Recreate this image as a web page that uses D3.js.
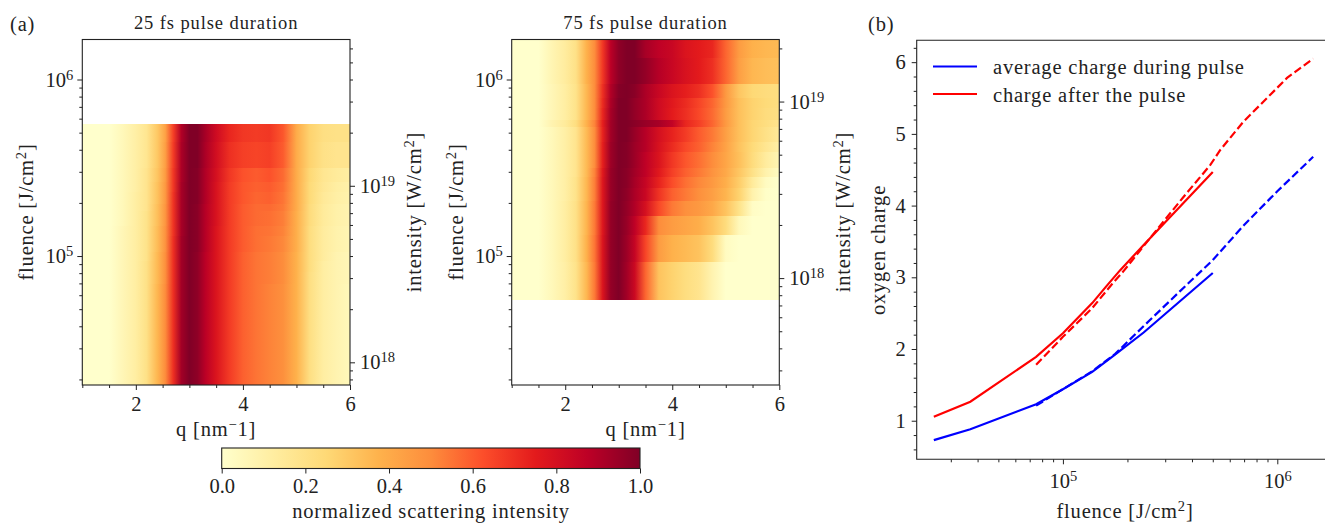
<!DOCTYPE html>
<html>
<head>
<meta charset="utf-8">
<script src="https://cdn.jsdelivr.net/npm/d3@7"></script>
<style>
  html, body { margin: 0; padding: 0; background: #fff; overflow: hidden; }
  svg { display: block; }
  text { font-family: "Liberation Serif", serif; fill: #222; }
  .tick text { font-size: 20.5px; }
  .tick line, .domain { stroke: #222; }
  .lab { font-size: 20.5px; letter-spacing: 0.8px; }
  .ttl { font-size: 18.5px; letter-spacing: 0.9px; }
</style>
</head>
<body>
<div id="chart"></div>
<script>
// q samples shared by both heat maps
var qValues = [1, 1.5, 1.75, 2, 2.2, 2.4, 2.55, 2.7, 2.85, 3, 3.15, 3.3, 3.5, 3.75, 4, 4.25, 4.5, 4.75, 5, 5.25, 5.5, 5.75, 6];

// fluence band edges, top to bottom
var edges25 = [5.6e5, 4.4e5, 3.16e5, 2.62e5, 2.31e5, 1.96e5, 1.8e5, 1.48e5, 1.3e5, 1.05e5, 9.4e4, 8.1e4, 6.9e4, 5.6e4, 4.4e4, 3.1e4, 1.86e4];
var edges75 = [1.685e6, 1.32e6, 9.47e5, 7.85e5, 6.92e5, 5.89e5, 5.41e5, 4.45e5, 3.9e5, 3.16e5, 2.81e5, 2.43e5, 2.06e5, 1.69e5, 1.31e5, 9.3e4, 5.64e4];

// normalized intensity, one row per band
var rows25 = [
  [.00,.00,.05,.11,.17,.30,.43,.66,.90,1.0,1.0,.92,.82,.72,.68,.67,.68,.61,.40,.27,.21,.20,.20],
  [.00,.00,.05,.11,.17,.30,.44,.67,.91,1.0,1.0,.91,.81,.70,.66,.65,.66,.60,.40,.27,.20,.18,.18],
  [.00,.00,.05,.11,.18,.31,.45,.68,.91,1.0,.99,.90,.80,.68,.62,.60,.62,.57,.40,.25,.17,.14,.12],
  [.00,.00,.05,.11,.18,.32,.46,.68,.92,1.0,.99,.90,.79,.67,.61,.59,.60,.56,.40,.24,.16,.12,.10],
  [.00,.00,.05,.12,.18,.32,.46,.69,.92,1.0,.99,.90,.79,.67,.61,.58,.59,.55,.40,.24,.15,.11,.09],
  [.00,.00,.05,.12,.18,.33,.47,.69,.92,1.0,.98,.89,.79,.67,.60,.57,.57,.54,.40,.23,.14,.10,.08],
  [.00,.00,.05,.12,.19,.33,.47,.69,.92,1.0,.98,.89,.79,.67,.60,.57,.56,.53,.39,.23,.14,.10,.08],
  [.00,.00,.06,.12,.19,.34,.48,.69,.92,1.0,.98,.89,.78,.67,.60,.56,.55,.52,.39,.22,.13,.09,.07],
  [.00,.00,.06,.12,.19,.34,.48,.70,.93,1.0,.98,.89,.78,.67,.60,.56,.54,.51,.39,.22,.13,.09,.07],
  [.00,.00,.06,.12,.19,.35,.49,.70,.93,1.0,.97,.88,.78,.67,.59,.55,.53,.50,.38,.22,.13,.08,.06],
  [.00,.00,.06,.12,.20,.35,.49,.70,.93,1.0,.97,.88,.78,.67,.59,.55,.53,.50,.38,.22,.12,.08,.06],
  [.00,.00,.06,.12,.20,.35,.49,.70,.93,1.0,.97,.88,.78,.67,.59,.55,.53,.50,.38,.21,.12,.08,.06],
  [.00,.00,.06,.12,.20,.36,.50,.70,.93,1.0,.97,.88,.78,.67,.59,.55,.52,.49,.38,.21,.12,.08,.05],
  [.00,.00,.06,.12,.20,.36,.50,.70,.93,1.0,.97,.88,.78,.67,.59,.55,.52,.49,.38,.21,.12,.08,.05],
  [.00,.00,.06,.12,.20,.36,.50,.70,.93,1.0,.97,.88,.78,.67,.59,.55,.52,.49,.38,.21,.12,.08,.05],
  [.00,.00,.06,.12,.20,.36,.50,.70,.93,1.0,.97,.88,.78,.67,.59,.55,.52,.49,.38,.21,.12,.08,.05]
];
var rows75 = [
  [.00,.00,.07,.13,.20,.38,.50,.68,.88,.97,1.0,1.0,.92,.87,.84,.78,.75,.72,.58,.45,.38,.36,.35],
  [.00,.00,.07,.13,.20,.38,.50,.68,.88,.97,1.0,1.0,.96,.89,.84,.79,.75,.70,.58,.44,.36,.34,.33],
  [.00,.00,.06,.12,.19,.36,.50,.70,.90,.99,1.0,.98,.91,.84,.78,.74,.70,.62,.46,.31,.25,.23,.22],
  [.00,.00,.06,.12,.19,.36,.50,.71,.91,1.0,1.0,.96,.91,.82,.76,.71,.65,.58,.46,.33,.27,.24,.22],
  [.00,.00,.06,.12,.19,.36,.50,.72,.92,1.0,1.0,.96,.91,.82,.75,.70,.64,.57,.45,.33,.27,.23,.21],
  [.00,.00,.08,.14,.22,.38,.52,.74,.93,1.0,1.0,.98,.95,.92,.86,.72,.66,.58,.46,.33,.26,.22,.18],
  [.00,.00,.05,.11,.18,.35,.50,.73,.93,1.0,1.0,.95,.89,.80,.73,.67,.60,.54,.44,.33,.26,.20,.15],
  [.00,.00,.05,.11,.18,.35,.50,.74,.94,1.0,.99,.94,.89,.79,.71,.64,.59,.52,.43,.32,.24,.17,.11],
  [.00,.00,.05,.11,.18,.35,.50,.74,.94,1.0,.99,.94,.87,.78,.68,.61,.56,.50,.42,.33,.23,.13,.07],
  [.00,.00,.05,.11,.18,.35,.52,.76,.95,1.0,.98,.93,.87,.76,.66,.59,.54,.48,.41,.31,.20,.09,.03],
  [.00,.00,.05,.11,.19,.36,.53,.77,.95,1.0,.98,.92,.85,.73,.63,.56,.51,.46,.39,.29,.14,.03,.00],
  [.00,.00,.05,.11,.19,.36,.53,.77,.95,1.0,.97,.91,.84,.69,.59,.54,.49,.44,.37,.27,.09,.01,.00],
  [.00,.00,.05,.12,.20,.37,.54,.77,.96,1.0,.96,.90,.80,.64,.54,.49,.46,.41,.32,.19,.02,.00,.00],
  [.00,.00,.05,.12,.20,.37,.54,.77,.96,1.0,.95,.87,.72,.50,.45,.42,.39,.32,.23,.05,.00,.00,.00],
  [.00,.00,.05,.12,.20,.38,.55,.78,.96,1.0,.94,.85,.65,.45,.38,.35,.32,.23,.03,.00,.00,.00,.00],
  [.00,.00,.05,.11,.19,.36,.54,.78,.96,1.0,.93,.83,.58,.32,.27,.22,.18,.08,.00,.00,.00,.00,.00]
];

// oxygen charge against fluence, solid = 25 fs, dashed = 75 fs
var fluenceSolid = [2.5e4, 3.7e4, 7.5e4, 1e5, 1.37e5, 1.75e5, 2.38e5, 5e5];
var avgSolid = [0.73, 0.88, 1.23, 1.44, 1.68, 1.92, 2.23, 3.06];
var fluenceAfterSolid = [2.5e4, 3.7e4, 7.5e4, 1e5, 1.37e5, 1.6e5, 1.85e5, 2.38e5, 5e5];
var afterSolid = [1.056, 1.265, 1.89, 2.22, 2.64, 2.88, 3.10, 3.45, 4.47];
var fluenceDashed = [7.5e4, 1e5, 1.37e5, 1.75e5, 2.4e5, 3.5e5, 5e5, 7e5, 1e6, 1.47e6];
var avgDashed = [1.21, 1.44, 1.69, 1.93, 2.33, 2.80, 3.24, 3.73, 4.2, 4.68];
var fluenceAfterDashed = [7.5e4, 1e5, 1.37e5, 1.7e5, 1.91e5, 2.4e5, 2.95e5, 3.65e5, 4.88e5, 5.4e5, 6.95e5, 1.11e6, 1.47e6];
var afterDashed = [1.78, 2.17, 2.57, 2.91, 3.08, 3.45, 3.78, 4.12, 4.57, 4.77, 5.17, 5.78, 6.05];

var legendLabels = ["average charge during pulse", "charge after the pulse"];
var legendColors = ["#0000ff", "#ff0000"];

var qTicks = [2, 4, 6];
var qMinorTicks = [1, 1.5, 2.5, 3, 3.5, 4.5, 5, 5.5];
var colorbarTicks = [0, 0.2, 0.4, 0.6, 0.8, 1];
var chargeTicks = [1, 2, 3, 4, 5, 6];
var chargeMinorTicks = [0.6, 0.8, 1.2, 1.4, 1.6, 1.8, 2.2, 2.4, 2.6, 2.8, 3.2, 3.4, 3.6, 3.8, 4.2, 4.4, 4.6, 4.8, 5.2, 5.4, 5.6, 5.8, 6.2];

var width = 1325, height = 523;

var svg = d3.select("#chart").append("svg")
  .attr("width", width)
  .attr("height", height);
var defs = svg.append("defs");

// same as matplotlib YlOrRd
var color = d3.scaleSequential(d3.piecewise(d3.interpolateRgb, d3.schemeYlOrRd[9])).domain([0, 1]);

// all minor log ticks inside a domain
function minorLogTicks(domain) {
  var lo = Math.min(domain[0], domain[1]), hi = Math.max(domain[0], domain[1]);
  var out = [];
  for (var e = Math.floor(Math.log10(lo)); e <= Math.ceil(Math.log10(hi)); e++) {
    for (var m = 2; m < 10; m++) {
      var v = m * Math.pow(10, e);
      if (v >= lo && v <= hi) out.push(v);
    }
  }
  return out;
}

function powerLabel(sel) {
  sel.selectAll(".tick text").each(function (d) {
    var t = d3.select(this).text("");
    t.append("tspan").text("10");
    t.append("tspan").attr("dy", "-7px").style("font-size", "14.5px").text(Math.round(Math.log10(d)));
  });
}

// text with one raised piece, e.g. cm2
function labelSup(g, x, y, rot, before, sup, after) {
  var t = g.append("text")
    .attr("class", "lab")
    .attr("text-anchor", "middle")
    .attr("transform", "translate(" + x + "," + y + ")" + (rot ? " rotate(-90)" : ""));
  t.append("tspan").text(before);
  t.append("tspan").attr("dy", "-7px").style("font-size", "14.5px").text(sup);
  t.append("tspan").attr("dy", "7px").text(after);
  return t;
}

function styleAxis(g) {
  g.select(".domain").remove();
  g.selectAll(".tick line").attr("stroke-width", 1);
}

function heatPanel(cfg) {
  var x = d3.scaleLinear().domain([1, 6]).range([cfg.x0, cfg.x1]);
  var y = d3.scaleLog().domain([1.86e4, 1.685e6]).range([385, 39.5]);
  var yI = d3.scaleLog().domain(y.domain().map(function (f) { return f / (cfg.tau * 1e-15); })).range(y.range());
  var g = svg.append("g");

  // horizontal smoothing inside a band, steps between bands
  cfg.rows.forEach(function (row, i) {
    var id = "band" + cfg.tau + "-" + i;
    defs.append("linearGradient").attr("id", id)
      .selectAll("stop").data(row).join("stop")
      .attr("offset", function (d, j) { return (x(qValues[j]) - cfg.x0) / (cfg.x1 - cfg.x0); })
      .attr("stop-color", function (d) { return color(d); });
    g.append("rect")
      .attr("x", cfg.x0)
      .attr("width", cfg.x1 - cfg.x0)
      .attr("y", y(cfg.edges[i]))
      .attr("height", y(cfg.edges[i + 1]) - y(cfg.edges[i]))
      .attr("shape-rendering", "crispEdges")
      .attr("fill", "url(#" + id + ")");
  });

  g.append("rect")
    .attr("x", cfg.x0).attr("y", 39.5)
    .attr("width", cfg.x1 - cfg.x0).attr("height", 345.5)
    .attr("fill", "none").attr("stroke", "#222").attr("stroke-width", 1.1);

  // bottom
  g.append("g").attr("transform", "translate(0,385)")
    .call(d3.axisBottom(x).tickValues(qTicks).tickFormat(d3.format("d")).tickSize(5).tickPadding(6).tickSizeOuter(0))
    .call(styleAxis);
  g.append("g").attr("transform", "translate(0,385)")
    .call(d3.axisBottom(x).tickValues(qMinorTicks).tickFormat("").tickSize(3))
    .call(styleAxis);
  // left
  g.append("g").attr("transform", "translate(" + cfg.x0 + ",0)")
    .call(d3.axisLeft(y).tickValues([1e5, 1e6]).tickSize(5).tickPadding(4))
    .call(styleAxis).call(powerLabel);
  g.append("g").attr("transform", "translate(" + cfg.x0 + ",0)")
    .call(d3.axisLeft(y).tickValues(minorLogTicks(y.domain())).tickFormat("").tickSize(3))
    .call(styleAxis);
  // right
  g.append("g").attr("transform", "translate(" + cfg.x1 + ",0)")
    .call(d3.axisRight(yI).tickValues([1e18, 1e19]).tickSize(5).tickPadding(5))
    .call(styleAxis).call(powerLabel);
  g.append("g").attr("transform", "translate(" + cfg.x1 + ",0)")
    .call(d3.axisRight(yI).tickValues(minorLogTicks(yI.domain())).tickFormat("").tickSize(3))
    .call(styleAxis);

  g.append("text").attr("class", "ttl").attr("text-anchor", "middle")
    .attr("x", (cfg.x0 + cfg.x1) / 2).attr("y", 29).text(cfg.title);
  labelSup(g, (cfg.x0 + cfg.x1) / 2, 436, false, "q [nm", "\u2212", "1]");
  labelSup(g, cfg.x0 - 49, 212, true, "fluence [J/cm", "2", "]");
  labelSup(g, cfg.x1 + 71, 212, true, "intensity [W/cm", "2", "]");
}

heatPanel({ tau: 25, title: "25 fs pulse duration", x0: 82.3, x1: 350, rows: rows25, edges: edges25 });
heatPanel({ tau: 75, title: "75 fs pulse duration", x0: 511.7, x1: 779.3, rows: rows75, edges: edges75 });

// colorbar
var cx = d3.scaleLinear().domain([0, 1]).range([221.7, 640]);
defs.append("linearGradient").attr("id", "cbar")
  .selectAll("stop").data(d3.schemeYlOrRd[9]).join("stop")
  .attr("offset", function (d, i) { return i / 8; })
  .attr("stop-color", function (d) { return d; });
svg.append("rect")
  .attr("x", cx(0)).attr("y", 448)
  .attr("width", cx(1) - cx(0)).attr("height", 20.5)
  .attr("fill", "url(#cbar)")
  .attr("stroke", "#222").attr("stroke-width", 1.1);
svg.append("g").attr("transform", "translate(0,468.5)")
  .call(d3.axisBottom(cx).tickValues(colorbarTicks).tickFormat(d3.format(".1f")).tickSize(5).tickPadding(5))
  .call(styleAxis);
svg.append("text").attr("class", "lab").attr("text-anchor", "middle")
  .attr("x", 431).attr("y", 518).text("normalized scattering intensity");

// panel (b)
var bx = d3.scaleLog().domain([2.08e4, 1.78e6]).range([916.7, 1331]);
var by = d3.scaleLinear().domain([0.462, 6.305]).range([459.3, 40.3]);
var bg = svg.append("g");

bg.append("path")
  .attr("d", "M" + bx.range()[1] + ",40.3H916.7V459.3H" + bx.range()[1])
  .attr("fill", "none").attr("stroke", "#222").attr("stroke-width", 1.1);

bg.append("g").attr("transform", "translate(0,459.3)")
  .call(d3.axisBottom(bx).tickValues([1e5, 1e6]).tickSize(5).tickPadding(9))
  .call(styleAxis).call(powerLabel);
bg.append("g").attr("transform", "translate(0,459.3)")
  .call(d3.axisBottom(bx).tickValues(minorLogTicks(bx.domain())).tickFormat("").tickSize(3))
  .call(styleAxis);
bg.append("g").attr("transform", "translate(916.7,0)")
  .call(d3.axisLeft(by).tickValues(chargeTicks).tickFormat(d3.format("d")).tickSize(5).tickPadding(6))
  .call(styleAxis);
bg.append("g").attr("transform", "translate(916.7,0)")
  .call(d3.axisLeft(by).tickValues(chargeMinorTicks).tickFormat("").tickSize(3))
  .call(styleAxis);

var line = d3.line()
  .x(function (d) { return bx(d[0]); })
  .y(function (d) { return by(d[1]); });

function addLine(xs, ys, stroke, dash) {
  bg.append("path")
    .datum(d3.zip(xs, ys))
    .attr("d", line)
    .attr("fill", "none")
    .attr("stroke", stroke)
    .attr("stroke-width", 2.2)
    .attr("stroke-dasharray", dash ? "8,3.5" : null);
}
addLine(fluenceSolid, avgSolid, "#0000ff", false);
addLine(fluenceAfterSolid, afterSolid, "#ff0000", false);
addLine(fluenceDashed, avgDashed, "#0000ff", true);
addLine(fluenceAfterDashed, afterDashed, "#ff0000", true);

// legend
legendLabels.forEach(function (name, i) {
  var yy = 66.5 + i * 27.5;
  bg.append("line").attr("x1", 933).attr("x2", 977).attr("y1", yy).attr("y2", yy)
    .attr("stroke", legendColors[i]).attr("stroke-width", 2.2);
  bg.append("text").attr("class", "lab").attr("x", 993).attr("y", yy + 7.5).text(name);
});

labelSup(bg, 1125, 518, false, "fluence [J/cm", "2", "]");
bg.append("text").attr("class", "lab").attr("text-anchor", "middle")
  .attr("transform", "translate(885,250) rotate(-90)").text("oxygen charge");

svg.append("text").attr("class", "lab").attr("x", 10).attr("y", 31).text("(a)");
svg.append("text").attr("class", "lab").attr("x", 868).attr("y", 31).text("(b)");
</script>
</body>
</html>
